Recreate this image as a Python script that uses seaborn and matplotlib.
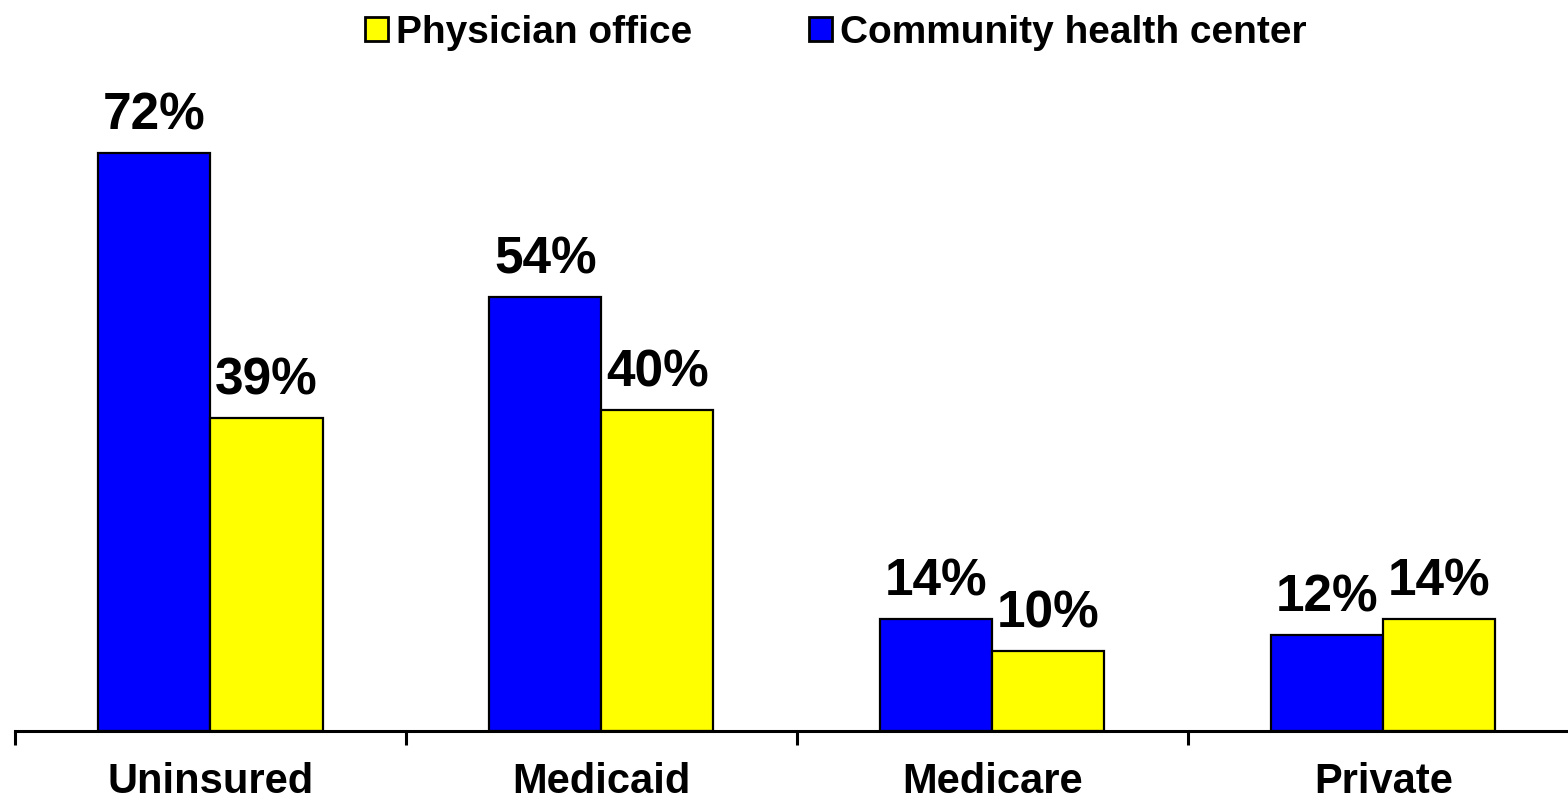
import pandas as pd
import matplotlib.pyplot as plt
import seaborn as sns
from matplotlib.patches import Patch

# datos
categories = ['Uninsured', 'Medicaid', 'Medicare', 'Private']
community = [72, 54, 14, 12]
physician = [39, 40, 10, 14]

df = pd.DataFrame({
    'category': categories * 2,
    'setting': ['Community health center'] * 4 + ['Physician office'] * 4,
    'value': community + physician,
})

sns.set_style('white')
plt.rcParams['font.family'] = ['Liberation Sans', 'DejaVu Sans']
plt.rcParams['font.weight'] = 'bold'
plt.rcParams['text.color'] = 'black'
plt.rcParams['xtick.color'] = 'black'

colors = {'Community health center': '#0000FF', 'Physician office': '#FFFF00'}

fig = plt.figure(figsize=(15.68, 8.11), dpi=100)
ax = fig.add_axes([15 / 1568, 80 / 811, 1553 / 1568, 731 / 811])

sns.barplot(data=df, x='category', y='value', hue='setting',
            hue_order=['Community health center', 'Physician office'],
            palette=colors, width=0.573, edgecolor='black', linewidth=1.6,
            saturation=1, legend=False, ax=ax)

for cont in ax.containers:
    ax.bar_label(cont, labels=[f'{v:.0f}%' for v in cont.datavalues],
                 padding=9, fontsize=37, fontweight='bold', color='black')

ax.set_xlim(-0.5, 3.472)
ax.set_ylim(0, 91)
ax.set_xlabel('')
ax.set_ylabel('')
ax.set_yticks([])

for s in ['top', 'right', 'left']:
    ax.spines[s].set_visible(False)
ax.spines['bottom'].set_linewidth(2.2)
ax.spines['bottom'].set_color('black')

ax.set_xticks(range(4))
ax.set_xticklabels(categories, fontsize=30, fontweight='bold', color='black')
ax.tick_params(axis='x', which='major', bottom=True, length=0, pad=22)
ax.set_xticks([-0.5, 0.5, 1.5, 2.5], minor=True)
ax.tick_params(axis='x', which='minor', bottom=True, length=10, width=2.2,
               direction='out', color='black')

handles = [Patch(facecolor='#FFFF00', edgecolor='black', linewidth=2, label='Physician office'),
           Patch(facecolor='#0000FF', edgecolor='black', linewidth=2, label='Community health center')]
fig.legend(handles=handles, loc='upper center', bbox_to_anchor=(0.533, 1.025), ncol=2,
           frameon=False, prop={'weight': 'bold', 'size': 28},
           handlelength=0.6, handleheight=0.6, handletextpad=0.2, columnspacing=3.0)

fig.savefig('out.png', dpi=100)
